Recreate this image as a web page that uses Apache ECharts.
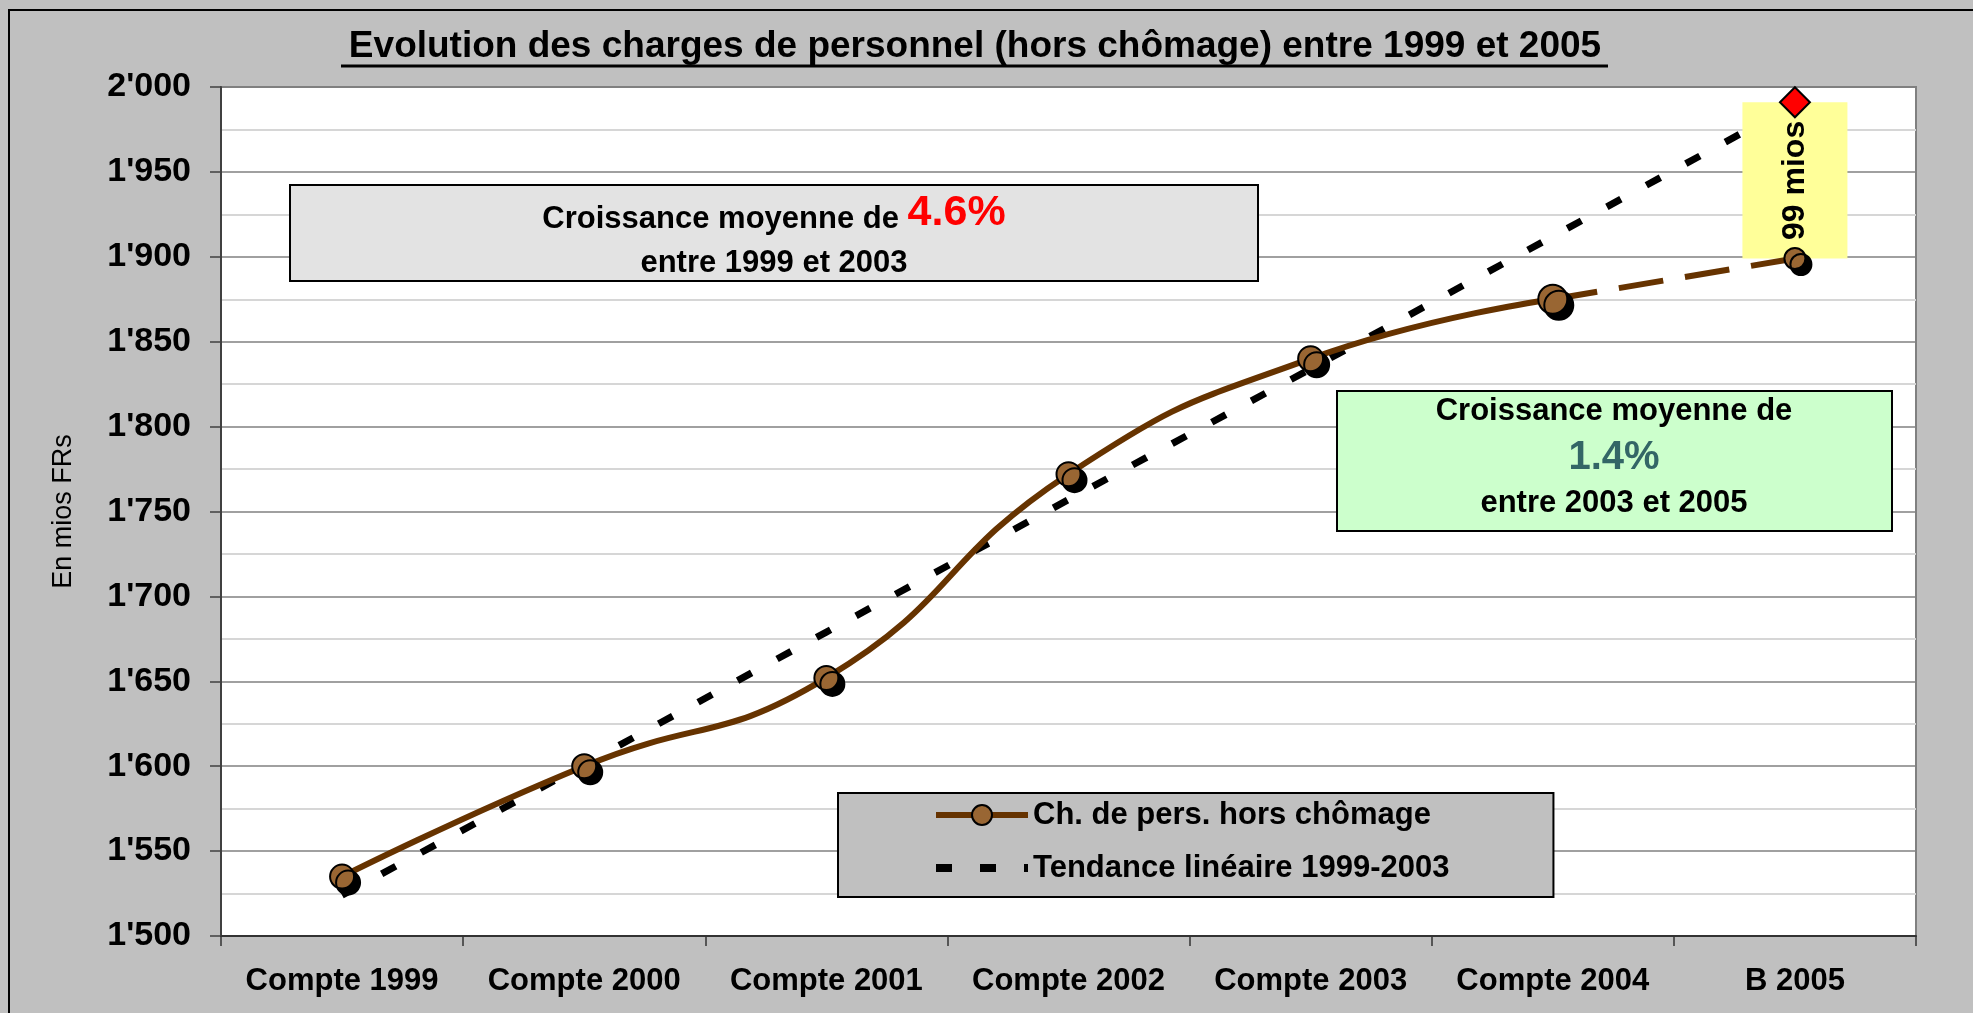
<!DOCTYPE html>
<html>
<head>
<meta charset="utf-8">
<script src="https://cdn.jsdelivr.net/npm/echarts@6/dist/echarts.min.js"></script>
<style>
html,body{margin:0;padding:0;background:#C0C0C0;}
#chart{width:1973px;height:1013px;}
</style>
</head>
<body>
<div id="chart"></div>
<script>
// ---- data ----
const categories = ['Compte 1999', 'Compte 2000', 'Compte 2001', 'Compte 2002', 'Compte 2003', 'Compte 2004', 'B 2005'];
const charges = [1535, 1600, 1652, 1772, 1840, 1875, 1899];      // Ch. de pers. hors chômage
const tendance = [1524, 1601, 1679, 1757, 1834, 1912, 1990];     // Tendance linéaire 1999-2003
const tendance2005 = [null, null, null, null, null, null, 1991]; // red diamond (trend value for B 2005)
const yMin = 1500, yMax = 2000, yInterval = 50;
const titleText = 'Evolution des charges de personnel (hors chômage) entre 1999 et 2005';
const ecartText = '99 mios';
const seriesNames = ['Ch. de pers. hors chômage', 'Tendance linéaire 1999-2003'];
const box1 = ['Croissance moyenne de ', '4.6%', 'entre 1999 et 2003'];
const box2 = ['Croissance moyenne de', '1.4%', 'entre 2003 et 2005'];

const FONT = "'Liberation Sans', Arial, sans-serif";
const lastActual = 5; // index of Compte 2004
const markerSizes = [24, 24, 24, 24, 25, 29, 21];

const chart = echarts.init(document.getElementById('chart'));

const markerStyle = {
  color: '#996633', borderColor: '#000', borderWidth: 2,
  shadowColor: '#000', shadowBlur: 0, shadowOffsetX: 6, shadowOffsetY: 6
};
const mainLine = { color: '#663300', width: 6 };
const trendLine = { color: '#000', width: 7, type: [16, 29], cap: 'butt' };

const option = {
  backgroundColor: '#C0C0C0',
  animation: false,
  grid: {
    left: 221, top: 87, right: 57, bottom: 77,
    show: true, backgroundColor: '#FFFFFF', borderColor: '#808080', borderWidth: 2
  },
  legend: {
    data: [
      { name: seriesNames[0], lineStyle: { width: 6, color: '#663300' } },
      { name: seriesNames[1], lineStyle: { width: 8, color: '#000', type: [16, 28] } }
    ],
    orient: 'vertical',
    left: 838, top: 793,
    backgroundColor: '#C0C0C0',
    borderColor: '#000', borderWidth: 2,
    padding: [4, 104, 11, 94],
    itemWidth: 92, itemHeight: 25, itemGap: 17,
    selectedMode: false,
    itemStyle: { shadowColor: 'transparent', shadowOffsetX: 0, shadowOffsetY: 0 },
    textStyle: { fontSize: 31, fontWeight: 'bold', color: '#000', fontFamily: FONT, lineHeight: 36 }
  },
  xAxis: {
    type: 'category',
    data: categories,
    boundaryGap: true,
    axisLine: { show: true, lineStyle: { color: '#333', width: 2 } },
    axisTick: { show: true, interval: 0, length: 10, lineStyle: { color: '#333', width: 1.5 } },
    axisLabel: { interval: 0, fontSize: 31, fontWeight: 'bold', color: '#000', fontFamily: FONT, margin: 30 },
    splitLine: { show: false }
  },
  yAxis: {
    type: 'value',
    min: yMin, max: yMax, interval: yInterval,
    name: 'En mios FRs',
    nameLocation: 'middle',
    nameGap: 144,
    nameTextStyle: { fontSize: 27, color: '#000', fontFamily: FONT },
    axisLine: { show: true, lineStyle: { color: '#404040', width: 2 } },
    axisTick: { show: true, length: 11, lineStyle: { color: '#404040', width: 1.5 } },
    axisLabel: {
      fontSize: 34, fontWeight: 'bold', color: '#000', fontFamily: FONT, margin: 30,
      formatter: v => String(v).replace(/\B(?=(\d{3})+(?!\d))/g, "'")
    },
    splitLine: { show: true, lineStyle: { color: '#808080', width: 1.5 } },
    minorTick: { show: false, splitNumber: 2 },
    minorSplitLine: { show: true, lineStyle: { color: '#d6d6d6', width: 2 } }
  },
  series: [
    {
      name: seriesNames[1],
      type: 'line',
      data: tendance,
      symbol: 'circle',
      showSymbol: false,
      itemStyle: { color: 'transparent' },
      lineStyle: trendLine,
      z: 2, silent: true
    },
    {
      name: 'base',
      type: 'bar',
      stack: 'ecart',
      data: charges.map((v, i) => tendance2005[i] != null ? v : '-'),
      itemStyle: { color: 'transparent' },
      barWidth: 105,
      z: 3, silent: true
    },
    {
      name: 'ecart',
      type: 'bar',
      stack: 'ecart',
      data: charges.map((v, i) => tendance2005[i] != null ? tendance2005[i] - v : '-'),
      itemStyle: { color: '#FFFF99' },
      barWidth: 105,
      label: {
        show: true, position: 'inside', rotate: 90, formatter: ecartText,
        fontSize: 32, fontWeight: 'bold', color: '#000', fontFamily: FONT
      },
      z: 3, silent: true
    },
    {
      name: seriesNames[0],
      type: 'line',
      data: charges.map((v, i) => i <= lastActual ? v : '-'),
      smooth: 0.5,
      symbol: 'circle',
      symbolSize: (v, p) => markerSizes[p.dataIndex],
      lineStyle: mainLine,
      itemStyle: markerStyle,
      z: 4
    },
    {
      name: 'budget',
      type: 'line',
      data: charges.map((v, i) => i >= lastActual ? v : '-'),
      symbol: 'circle',
      symbolSize: (v, p) => p.dataIndex > lastActual ? markerSizes[p.dataIndex] : 0,
      lineStyle: { color: '#663300', width: 6, type: [45, 22], cap: 'butt' },
      itemStyle: markerStyle,
      z: 4
    },
    {
      name: 'diamond',
      type: 'scatter',
      data: tendance2005.map(v => v == null ? '-' : v),
      symbol: 'diamond',
      symbolSize: 30,
      itemStyle: { color: '#FF0000', borderColor: '#000', borderWidth: 2, opacity: 1 },
      z: 5, silent: true
    }
  ],
  graphic: [
    { type: 'rect', shape: { x: 9, y: 10, width: 2100, height: 1100 },
      style: { fill: 'none', stroke: '#000', lineWidth: 2 }, z: 100, silent: true },
    { type: 'text', x: 975, y: 47,
      style: { text: titleText, font: "bold 37px " + FONT, fill: '#000', align: 'center', verticalAlign: 'middle' }, z: 100 },
    { type: 'line', shape: { x1: 341, y1: 66, x2: 1608, y2: 66 }, style: { stroke: '#000', lineWidth: 3 }, z: 100 },
    { type: 'rect', shape: { x: 290, y: 185, width: 968, height: 96 },
      style: { fill: '#E3E3E3', stroke: '#000', lineWidth: 2 }, z: 90 },
    { type: 'text', x: 774, y: 213, z: 91,
      style: {
        text: '{a|' + box1[0] + '}{r|' + box1[1] + '}',
        align: 'center', verticalAlign: 'middle',
        rich: {
          a: { fontSize: 31, fontWeight: 'bold', fontFamily: FONT, fill: '#000', color: '#000', lineHeight: 31, verticalAlign: 'bottom' },
          r: { fontSize: 43, fontWeight: 'bold', fontFamily: FONT, fill: '#FF0000', color: '#FF0000', lineHeight: 43, verticalAlign: 'bottom' }
        }
      } },
    { type: 'text', x: 774, y: 263, z: 91,
      style: { text: box1[2], font: "bold 31px " + FONT, fill: '#000', align: 'center', verticalAlign: 'middle' } },
    { type: 'rect', shape: { x: 1337, y: 391, width: 555, height: 140 },
      style: { fill: '#CCFFCC', stroke: '#000', lineWidth: 2 }, z: 90 },
    { type: 'text', x: 1614, y: 411, z: 91,
      style: { text: box2[0], font: "bold 31px " + FONT, fill: '#000', align: 'center', verticalAlign: 'middle' } },
    { type: 'text', x: 1614, y: 458, z: 91,
      style: { text: box2[1], font: "bold 40px " + FONT, fill: '#336666', align: 'center', verticalAlign: 'middle' } },
    { type: 'text', x: 1614, y: 503, z: 91,
      style: { text: box2[2], font: "bold 31px " + FONT, fill: '#000', align: 'center', verticalAlign: 'middle' } }
  ]
};

chart.setOption(option);
</script>
</body>
</html>
